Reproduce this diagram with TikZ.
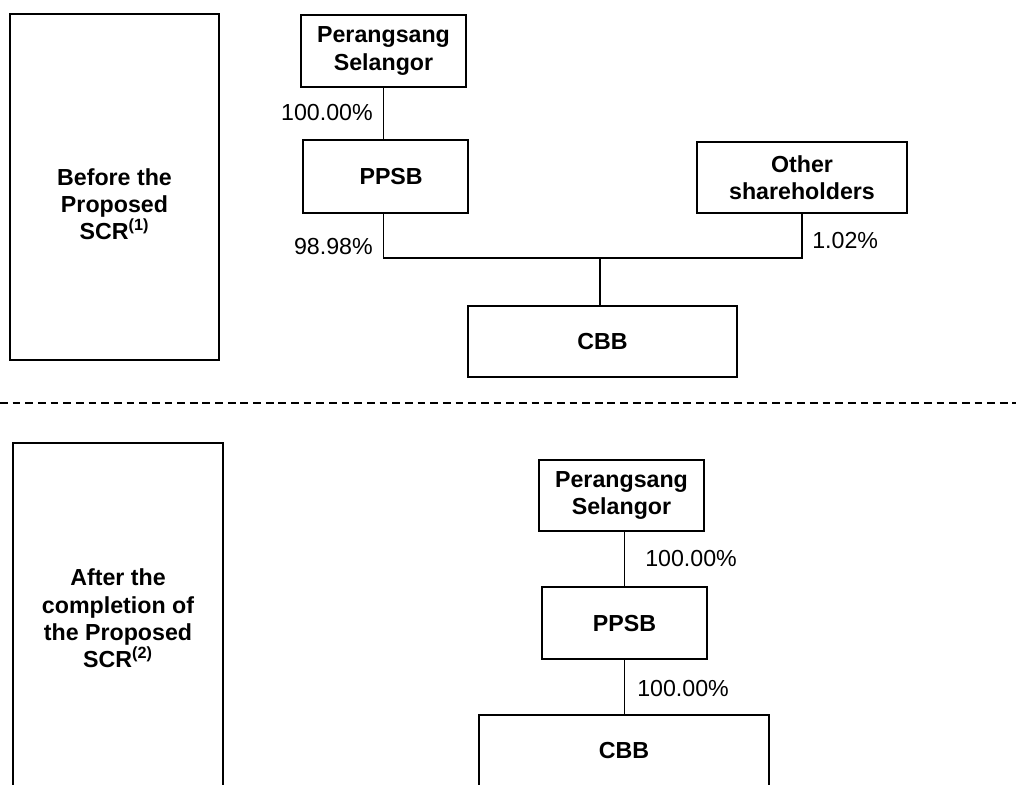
\documentclass[tikz,border=0pt]{standalone}
\usepackage{fontspec}
\setmainfont{Liberation Sans}
\usetikzlibrary{positioning,calc}
\tikzset{
      myboxblock/.style 2 args={
        draw=black,
        line width=1.3pt,
        align=center,
        inner sep=0pt,
        font={\fontsize{16.5}{19.4}\selectfont\bfseries},
        minimum width=#1,
        minimum height=#2
      },
      mytitleblock/.style={
        align=center,
        inner sep=0pt,
        font={\fontsize{16.5}{19.4}\selectfont\bfseries}
      },
      mypercent/.style={
        inner sep=0pt,
        font={\fontsize{16.5}{19.4}\selectfont}
      },
      myline/.style={
        line width=1.3pt
      },
    }

\begin{document}
\begin{tikzpicture}[x=0.025cm,y=-0.025cm]

          \useasboundingbox (0,0) rectangle (1016,784);
          \clip (0,0) rectangle (1016,784);

          % before the proposed SCR
          \node[myboxblock={5.225cm}{8.65cm}]
            (beforebox) at (114.5,187) {};
          \node[mytitleblock]
            (beforetitle) at (114.5,204)
            {Before the\\Proposed\\SCR\textsuperscript{(1)}};

          \node[myboxblock={4.125cm}{1.8cm}]
            (perang1) at (383.5,51)
            {Perangsang\\Selangor};
          \node[myboxblock={4.125cm}{1.825cm}]
            (ppsb1) at (385.5,176.5)
            {\hspace{8pt}PPSB};
          \node[myboxblock={5.25cm}{1.775cm}]
            (others) at (802,177.5)
            {Other\\shareholders};
          \node[myboxblock={6.725cm}{1.775cm}]
            (cbb1) at (602.5,341.5)
            {CBB};

          \coordinate (joint1) at (600,258);

          \draw[myline] (perang1.south) -- (perang1.south |- ppsb1.north);
          \draw[myline] (perang1.south |- ppsb1.south) |- (joint1) -| (others.south);
          \draw[myline] (joint1) -- (joint1 |- cbb1.north);

          \node[mypercent,anchor=east] (pct1) at (373,113) {100.00\%};
          \node[mypercent,anchor=east] (pct2) at (373,247) {98.98\%};
          \node[mypercent,anchor=west] (pct3) at (812,241) {1.02\%};

          % separator
          \draw[myline,dash pattern=on 5.5pt off 3.5pt] (0,403) -- (1016,403);

          % after the proposed SCR
          \node[myboxblock={5.25cm}{9cm}]
            (afterbox) at (118,623) {};
          \node[mytitleblock]
            (aftertitle) at (118,618.5)
            {After the\\completion of\\the Proposed\\SCR\textsuperscript{(2)}};

          \node[myboxblock={4.125cm}{1.775cm}]
            (perang2) at (621.5,495.5)
            {Perangsang\\Selangor};
          \node[myboxblock={4.125cm}{1.8cm}]
            (ppsb2) at (624.5,623)
            {PPSB};
          \node[myboxblock={7.25cm}{2cm}]
            (cbb2) at (624,755)
            {};
          \node[mytitleblock]
            (cbb2text) at (624,750)
            {CBB};

          \draw[myline] (ppsb2.north |- perang2.south) -- (ppsb2.north);
          \draw[myline] (ppsb2.south) -- (ppsb2.south |- cbb2.north);

          \node[mypercent,anchor=west] (pct4) at (645,558) {100.00\%};
          \node[mypercent,anchor=west] (pct5) at (637,688) {100.00\%};

\end{tikzpicture}
\end{document}
